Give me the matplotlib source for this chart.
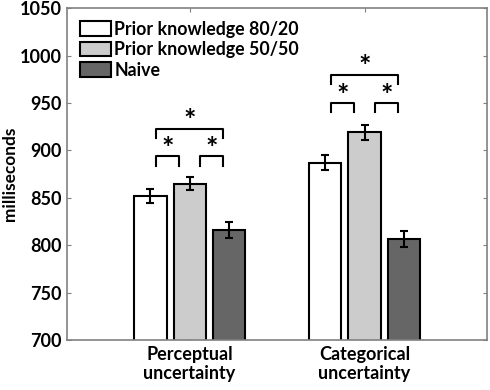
import numpy as np
import matplotlib
matplotlib.use("Agg")
import matplotlib.pyplot as plt
from matplotlib.patches import Patch

plt.rcParams['font.family'] = ['Lato', 'DejaVu Sans']
plt.rcParams['font.weight'] = 'bold'

groups = ["Perceptual\nuncertainty", "Categorical\nuncertainty"]
series = ["Prior knowledge 80/20", "Prior knowledge 50/50", "Naive"]
means = [[852, 887], [865, 919], [816, 807]]
errs = [[7, 8], [7, 8], [8, 8.5]]
colors = ["#ffffff", "#cccccc", "#666666"]
yticks = [700, 750, 800, 850, 900, 950, 1000, 1050]
# significance brackets per group: (small bracket y, big bracket y)
brackets = [(894, 923), (950, 980)]


def main():
    fig = plt.figure(figsize=(4.9, 3.9), dpi=100)
    ax = fig.add_axes([0.137, 0.128, 0.857, 0.851])
    x = np.arange(1, len(groups) + 1)
    w, off = 0.184, 0.224
    for i, (m, e, c) in enumerate(zip(means, errs, colors)):
        ax.bar(x + (i - 1) * off, m, w, bottom=0, color=c, edgecolor="black", lw=1.5, zorder=2)
        ax.errorbar(x + (i - 1) * off, m, yerr=e, fmt="none", ecolor="black", elinewidth=1.5,
                    capsize=3, capthick=1.5, zorder=3)

    # brackets with stars
    for c, (ys, yb) in zip(x, brackets):
        leg = 10
        for a, b in [(c - 0.19, c - 0.06), (c + 0.06, c + 0.19)]:
            ax.plot([a, a, b, b], [ys - leg, ys, ys, ys - leg], color="black", lw=1.5)
            ax.text((a + b) / 2, ys - 6, "*", ha="center", va="bottom", fontsize=21, fontweight="bold")
        a, b = c - 0.19, c + 0.19
        ax.plot([a, a, b, b], [yb - leg, yb, yb, yb - leg], color="black", lw=1.5)
        ax.text(c, yb - 6, "*", ha="center", va="bottom", fontsize=21, fontweight="bold")

    ax.set_xlim(0.3, 2.7)
    ax.set_ylim(700, 1050)
    ax.set_yticks(yticks)
    ax.set_xticks(x)
    ax.set_xticklabels(groups, fontsize=12.5, fontweight="bold", linespacing=1.15)
    ax.tick_params(axis="both", direction="in", length=3, color="#808080", top=True, right=True,
                   labelsize=13, pad=4)
    for lab in ax.get_yticklabels():
        lab.set_fontweight("bold")
    for s in ax.spines.values():
        s.set_color("#808080")
        s.set_linewidth(1.2)
    ax.set_ylabel("milliseconds", fontsize=12.4, fontweight="bold")
    ax.yaxis.set_label_coords(-0.117, 0.5)

    handles = [Patch(facecolor=c, edgecolor="black", lw=1.5) for c in colors]
    ax.legend(handles, series, loc="upper left", frameon=False,
              prop={"weight": "bold", "size": 12.8}, handlelength=1.75, handleheight=0.9,
              handletextpad=0.2, labelspacing=0.2, borderaxespad=0.5, borderpad=0.2)

    fig.savefig("out.png", dpi=100)


if __name__ == "__main__":
    main()
